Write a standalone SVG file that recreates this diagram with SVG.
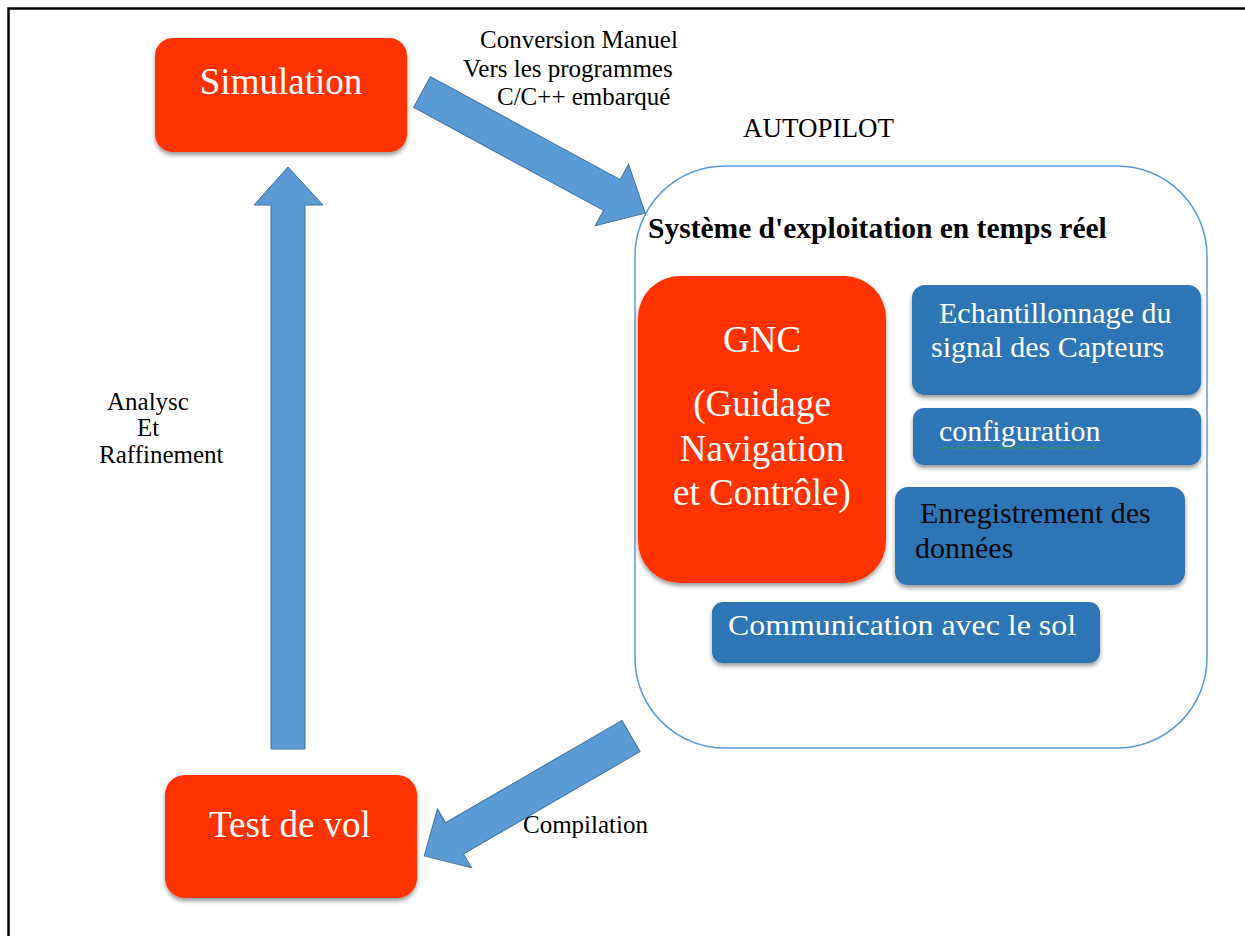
<svg xmlns="http://www.w3.org/2000/svg" width="1245" height="936" viewBox="0 0 1245 936">
<style>
.red{fill:#FF3300;filter:url(#sh)}
.blue{fill:#2E75B6;filter:url(#sh)}
.arrow{fill:#5B9BD5;stroke:#41719C;stroke-width:1}
.t{font-family:"Liberation Serif","Times New Roman",serif}
.big{font-size:37px;fill:#fff}
.mid{font-size:30px;fill:#fff}
.lab{font-size:25px;fill:#000}
</style>
<defs>
<filter id="sh" x="-10%" y="-10%" width="120%" height="130%">
<feDropShadow dx="0" dy="3" stdDeviation="2" flood-color="#000" flood-opacity="0.4"/>
</filter>
</defs>
<rect width="1245" height="936" fill="#fff"/>
<path d="M8.5,936 V8.5 H1245" fill="none" stroke="#000" stroke-width="2.5"/>

<g id="autopilot">
<rect x="635" y="166" width="572" height="582" rx="90" ry="90" fill="#fff" stroke="#5B9BD5" stroke-width="1.5"/>
<text class="t" x="743" y="137" font-size="27" fill="#000">AUTOPILOT</text>
<text class="t" x="648" y="238" font-size="29.5" font-weight="bold" fill="#000">Système d'exploitation en temps réel</text>
</g>

<g id="connectors">
<polygon class="arrow" transform="translate(422,92) rotate(28.48)" points="0,-17.5 216,-17.5 216,-35 254,0 216,35 216,17.5 0,17.5"/>
<polygon class="arrow" transform="translate(631,736) rotate(149.9)" points="0,-18 204,-18 204,-34 239,0 204,34 204,18 0,18"/>
<polygon class="arrow" points="271,749 271,205 254,205 288,167 323,205 305,205 305,749"/>
<g class="t lab">
<text x="480" y="48">Conversion Manuel</text>
<text x="463" y="77">Vers les programmes</text>
<text x="497" y="105">C/C++ embarqué</text>
<text x="107" y="410">Analysc</text>
<text x="137" y="436">Et</text>
<text x="99" y="463">Raffinement</text>
<text x="523" y="833">Compilation</text>
</g>
</g>

<g id="simulation">
<rect class="red" x="155" y="38" width="252" height="114" rx="18"/>
<text class="t big" x="281" y="94" text-anchor="middle">Simulation</text>
</g>

<g id="test-de-vol">
<rect class="red" x="165" y="775" width="252" height="123" rx="20"/>
<text class="t big" x="290" y="837" text-anchor="middle">Test de vol</text>
</g>

<g id="gnc">
<rect class="red" x="638" y="276" width="248" height="307" rx="42"/>
<g class="t big" text-anchor="middle">
<text x="762" y="352">GNC</text>
<text x="762" y="416">(Guidage</text>
<text x="762" y="461">Navigation</text>
<text x="762" y="505">et Contrôle)</text>
</g>
</g>

<g id="echantillonnage">
<rect class="blue" x="912" y="285" width="289" height="110" rx="13"/>
<text class="t mid" x="939" y="323">Echantillonnage du</text>
<text class="t mid" x="931" y="357">signal des Capteurs</text>
</g>

<g id="configuration">
<rect class="blue" x="913" y="408" width="288" height="57" rx="11"/>
<text class="t mid" x="939" y="441">configuration</text>
<path d="M939,447 l3,2 l3,-2 l3,2 l3,-2 l3,2 l3,-2 l3,2 l3,-2 l3,2 l3,-2 l3,2 l3,-2 l3,2 l3,-2 l3,2 l3,-2 l3,2 l3,-2 l3,2 l3,-2 l3,2 l3,-2 l3,2 l3,-2 l3,2 l3,-2 l3,2 l3,-2 l3,2 l3,-2 l3,2 l3,-2 l3,2 l3,-2 l3,2 l3,-2 l3,2 l3,-2 l3,2 l3,-2 l3,2 l3,-2 l3,2 l3,-2 l3,2 l3,-2 l3,2 l3,-2 l3,2 l3,-2 l3,2 l3,-2 l3,2" fill="none" stroke="#3a9a3a" stroke-width="1"/>
</g>

<g id="enregistrement">
<rect class="blue" x="895" y="487" width="290" height="98" rx="13"/>
<text class="t" x="920" y="523" font-size="30" fill="#0a0a0a">Enregistrement des</text>
<text class="t" x="915" y="558" font-size="30" fill="#0a0a0a">données</text>
</g>

<g id="communication">
<rect class="blue" x="712" y="602" width="388" height="61" rx="11"/>
<text class="t mid" x="728" y="635" textLength="348" lengthAdjust="spacingAndGlyphs">Communication avec le sol</text>
</g>
</svg>
